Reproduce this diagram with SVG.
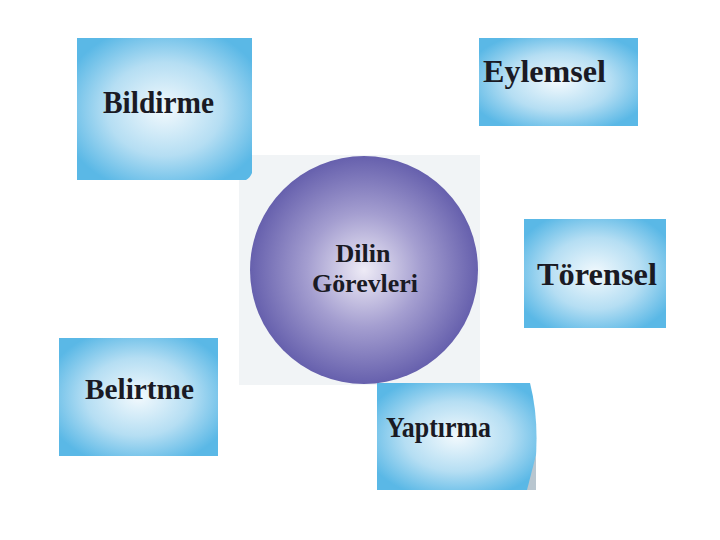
<svg xmlns="http://www.w3.org/2000/svg" width="720" height="540" viewBox="0 0 720 540">
<defs>
<radialGradient id="blue" cx="50%" cy="50%" r="60%">
<stop offset="0" stop-color="#f2f9fd"/>
<stop offset="0.55" stop-color="#b5def3"/>
<stop offset="1" stop-color="#5ab8e6"/>
</radialGradient>
<radialGradient id="purple" cx="50%" cy="50%" r="50%">
<stop offset="0" stop-color="#eeebf6"/>
<stop offset="0.5" stop-color="#a49ed0"/>
<stop offset="1" stop-color="#6660ad"/>
</radialGradient>
</defs>
<style>
.box{fill:url(#blue);}
.lbl{font-family:"Liberation Serif","Times New Roman",serif;font-weight:bold;fill:#1a1a24;}
</style>
<rect width="720" height="540" fill="#ffffff"/>
<rect x="239" y="155" width="241" height="230" fill="#f1f4f6"/>
<g id="bildirme">
<path class="box" d="M77,38 H252 V173 Q250,178 246,180 H77 Z"/>
<text class="lbl" x="103" y="113" font-size="31" textLength="111" lengthAdjust="spacingAndGlyphs">Bildirme</text>
</g>
<g id="eylemsel">
<rect class="box" x="479" y="38" width="159" height="88"/>
<text class="lbl" x="483" y="82" font-size="31" textLength="123" lengthAdjust="spacingAndGlyphs">Eylemsel</text>
</g>
<g id="torensel">
<rect class="box" x="524" y="219" width="142" height="109"/>
<text class="lbl" x="537" y="285" font-size="31" textLength="120" lengthAdjust="spacingAndGlyphs">Törensel</text>
</g>
<g id="belirtme">
<rect class="box" x="59" y="338" width="159" height="118"/>
<text class="lbl" x="85" y="399" font-size="30" textLength="109" lengthAdjust="spacingAndGlyphs">Belirtme</text>
</g>
<g id="yaptirma">
<path class="box" d="M377,383 H530 Q542,430 532,490 H377 Z"/>
<path d="M536,455 L536,490 L527,490 Z" fill="#b9c6cf"/>
<text class="lbl" x="386" y="437" font-size="30" textLength="105" lengthAdjust="spacingAndGlyphs">Yaptırma</text>
</g>
<g id="dilin">
<circle cx="364" cy="270" r="114" fill="url(#purple)"/>
<text class="lbl" x="363" y="262" font-size="26" text-anchor="middle" textLength="55" lengthAdjust="spacingAndGlyphs">Dilin</text>
<text class="lbl" x="365" y="292" font-size="26" text-anchor="middle" textLength="106" lengthAdjust="spacingAndGlyphs">Görevleri</text>
</g>
<g id="connectors"></g>
</svg>
